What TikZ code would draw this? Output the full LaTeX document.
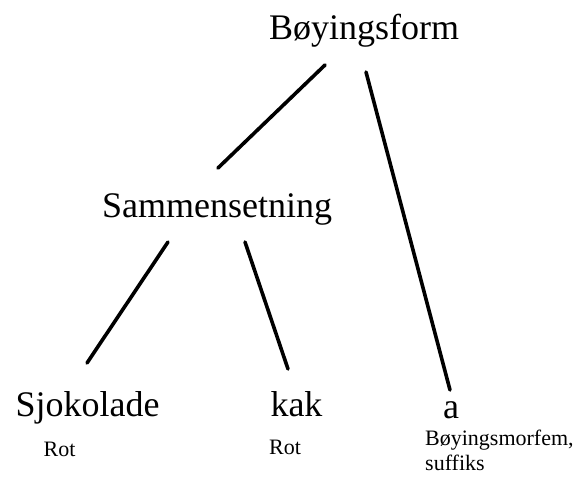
\documentclass[tikz,border=0pt]{standalone}
\usepackage{fontspec}
\setmainfont{Liberation Serif}
\usetikzlibrary{positioning}

\begin{document}
\begin{tikzpicture}[
		x=1pt, y=1pt,
		word/.style={anchor=base, inner sep=0pt, font=\fontsize{36}{43}\selectfont},
		tag/.style={anchor=base, inner sep=0pt, font=\fontsize{22}{25}\selectfont},
		branch/.style={line width=3.6pt, line cap=round}
	]

	\useasboundingbox (0,0) rectangle (584,-477);

	% Top of the tree
	\node[word] (form) at (364,-39) {Bøyingsform};
	\node[word] (comp) at (217,-217) {Sammensetning};

	% Leaves
	\node[word] (choc) at (87.5,-416) {Sjokolade};
	\node[word] (cake) at (296.5,-416) {kak};
	\node[word] (suff) at (451,-418) {a};

	% Labels under the leaves
	\node[tag] (rootA) at (59.5,-456) {Rot};
	\node[tag] (rootB) at (285,-454) {Rot};
	\node[tag, anchor=base west, align=left] (morph) at (425,-470) {Bøyingsmorfem,\\suffiks};

	% Branches
	\draw[branch] ([shift={(-39,-26)}]form.base) -- ([shift={(1,49)}]comp.base);
	\draw[branch] ([shift={(2,-33)}]form.base) -- ([shift={(-1,28)}]suff.base);
	\draw[branch] ([shift={(-49,-25)}]comp.base) -- ([shift={(-0.5,53)}]choc.base);
	\draw[branch] ([shift={(28,-25)}]comp.base) -- ([shift={(-8.5,47)}]cake.base);

\end{tikzpicture}
\end{document}
